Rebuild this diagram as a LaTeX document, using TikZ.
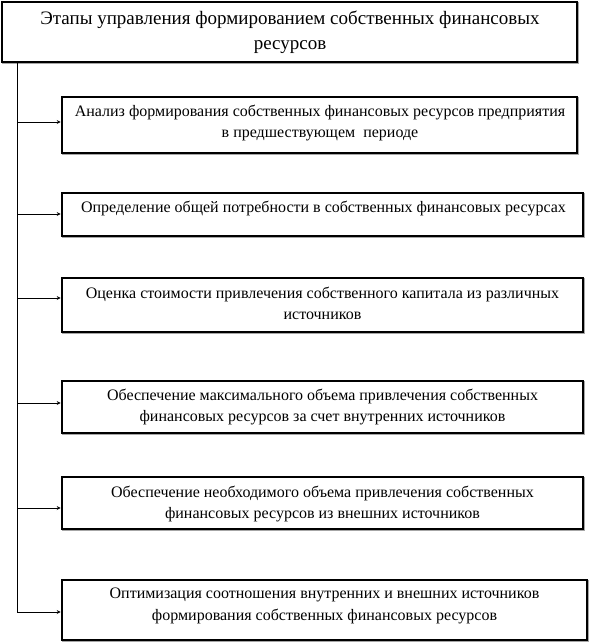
\documentclass[tikz,border=0pt]{standalone}
\usepackage{fontspec}
\setmainfont{Liberation Serif}
\usetikzlibrary{arrows.meta,calc}
\begin{document}
\begin{tikzpicture}[x=1pt,y=-1pt,
  boxshape/.style={draw=black,line width=2.6pt,rectangle,inner sep=0pt,fill=white},
  boxtxt/.style={font=\fontsize{16}{21.5}\selectfont,align=center,inner sep=0pt,anchor=center},
  titletxt/.style={font=\fontsize{19}{25}\selectfont,align=center,inner sep=0pt},
  arr/.style={-{Stealth[length=4pt,width=4pt]},line width=0.8pt},
  trunk/.style={line width=1pt}]
\useasboundingbox (0,0) rectangle (591,642);
\fill[white] (0,0) rectangle (591,642);
% shadows
\foreach \a/\b/\c/\d in {2/2/577/62, 62/97/577/153, 62/193/583/236, 62/278/583/332, 62/381/583/433, 62/477/583/529, 62/580/587/640}{
  \draw[gray!70,line width=2.6pt] (\a+1,\b+1) rectangle (\c+1,\d+1);
}
% boxes
\node[boxshape,minimum width=575pt,minimum height=60pt] (top) at (289.5,32) {};
\node[boxshape,minimum width=515pt,minimum height=56pt] (b1) at (319.5,125) {};
\node[boxshape,minimum width=521pt,minimum height=43pt] (b2) at (322.5,214.5) {};
\node[boxshape,minimum width=521pt,minimum height=54pt] (b3) at (322.5,305) {};
\node[boxshape,minimum width=521pt,minimum height=52pt] (b4) at (322.5,407) {};
\node[boxshape,minimum width=521pt,minimum height=52pt] (b5) at (322.5,503) {};
\node[boxshape,minimum width=525pt,minimum height=60pt] (b6) at (324.5,610) {};
% texts
\node[titletxt] (tt) at (290,32) {Этапы управления формированием собственных финансовых\\ресурсов};
\node[boxtxt] (t1) at (320,123) {Анализ формирования собственных финансовых ресурсов предприятия\\в предшествующем\ \ периоде};
\node[boxtxt] (t2) at (323.5,208) {Определение общей потребности в собственных финансовых ресурсах};
\node[boxtxt] (t3) at (322.5,303.5) {Оценка стоимости привлечения собственного капитала из различных\\источников};
\node[boxtxt] (t4) at (322.5,407) {Обеспечение максимального объема привлечения собственных\\финансовых ресурсов за счет внутренних источников};
\node[boxtxt] (t5) at (322.5,504) {Обеспечение необходимого объема привлечения собственных\\финансовых ресурсов из внешних источников};
\node[boxtxt] (t6) at (324.5,606) {Оптимизация соотношения внутренних и внешних источников\\формирования собственных финансовых ресурсов};
% trunk and arrows
\coordinate (j0) at (17,62);
\coordinate (j1) at (17,122);
\coordinate (j2) at (17,214);
\coordinate (j3) at (17,298);
\coordinate (j4) at (17,403);
\coordinate (j5) at (17,508);
\coordinate (j6) at (17,612);
\draw[trunk] (j0) -- (j6);
\draw[arr] (j1) -- (j1 -| b1.west);
\draw[arr] (j2) -- (j2 -| b2.west);
\draw[arr] (j3) -- (j3 -| b3.west);
\draw[arr] (j4) -- (j4 -| b4.west);
\draw[arr] (j5) -- (j5 -| b5.west);
\draw[arr] (j6) -- (j6 -| b6.west);
\end{tikzpicture}
\end{document}
